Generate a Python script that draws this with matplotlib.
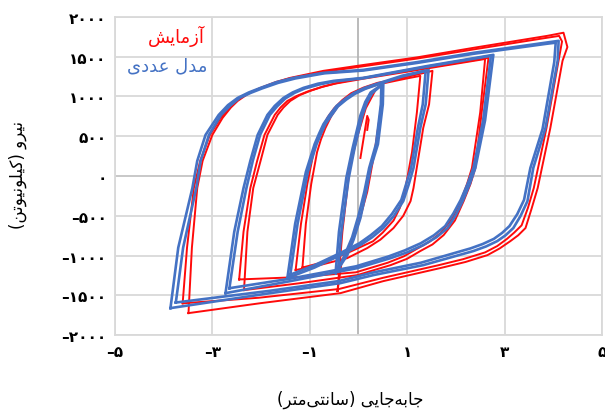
import numpy as np
import matplotlib
matplotlib.use("Agg")
import matplotlib.pyplot as plt

plt.rcParams['font.family'] = ['DejaVu Sans']

# --- data: (displacement cm, force kN) ---
# experiment (red)
exp_a1 = [(-3.49, -1723), (-3.42, -900), (-3.31, -150), (-3.20, 190), (-3.00, 516), (-2.79, 730),
          (-2.62, 860), (-2.48, 943), (-2.25, 1040), (-2.01, 1107), (-1.70, 1180), (-1.40, 1233),
          (-0.72, 1321), (-0.02, 1384), (1.20, 1490), (2.36, 1610), (3.88, 1761), (4.21, 1800),
          (4.29, 1620), (4.19, 1447), (3.94, 604), (3.68, -151), (3.55, -420), (3.43, -654),
          (3.28, -745), (3.12, -818), (2.90, -910), (2.65, -994), (2.20, -1080), (1.68, -1157),
          (0.51, -1321), (-0.37, -1472), (-2.01, -1598), (-3.49, -1723)]
exp_a2 = [(-3.61, -1600), (-3.52, -900), (-3.38, -150), (-3.25, 190), (-3.05, 516), (-2.83, 730),
          (-2.66, 850), (-2.52, 943), (-2.29, 1030), (-2.05, 1095), (-1.74, 1165), (-1.45, 1220),
          (-0.75, 1305), (0.00, 1370), (1.20, 1475), (2.36, 1590), (3.80, 1730), (4.12, 1760),
          (4.18, 1690), (4.10, 1420), (3.86, 600), (3.60, -151), (3.48, -400), (3.35, -620),
          (3.20, -710), (3.05, -790), (2.85, -880), (2.60, -960), (2.15, -1045), (1.65, -1120),
          (0.50, -1280), (-0.40, -1420), (-2.05, -1530), (-3.61, -1600)]
exp_b1 = [(-2.35, -1434), (-2.28, -700), (-2.16, -151), (-2.01, 190), (-1.87, 516), (-1.66, 767),
          (-1.54, 860), (-1.40, 943), (-1.21, 1015), (-0.99, 1070), (-0.72, 1125), (-0.43, 1170),
          (0.10, 1233), (1.30, 1350), (2.67, 1484), (2.53, 800), (2.40, 101), (2.30, -100),
          (2.16, -315), (1.98, -560), (1.75, -742), (1.52, -860), (1.27, -943), (1.00, -1040),
          (0.66, -1120), (-0.02, -1245), (-1.19, -1346), (-2.35, -1434)]
exp_b2 = [(-2.45, -1300), (-2.36, -700), (-2.22, -151), (-2.08, 190), (-1.93, 516), (-1.72, 767),
          (-1.60, 860), (-1.46, 943), (-1.27, 1005), (-1.05, 1060), (-0.77, 1115), (-0.48, 1160),
          (0.10, 1222), (1.30, 1340), (2.60, 1470), (2.50, 800), (2.33, 101), (2.23, -100),
          (2.10, -315), (1.92, -540), (1.68, -720), (1.45, -830), (1.20, -915), (0.93, -1010),
          (0.60, -1090), (-0.05, -1210), (-1.20, -1270), (-2.45, -1300)]
exp_c1 = [(-1.29, -1182), (-1.18, -600), (-1.05, -100), (-0.92, 300), (-0.84, 460), (-0.75, 600),
          (-0.63, 740), (-0.50, 850), (-0.33, 955), (-0.15, 1040), (0.10, 1110), (0.39, 1170),
          (0.92, 1233), (1.52, 1321), (1.45, 900), (1.33, 604), (1.13, -151), (1.07, -315),
          (0.92, -500), (0.72, -654), (0.45, -800), (0.18, -906), (-0.23, -1032), (-0.80, -1120),
          (-1.29, -1182)]
exp_c2 = [(-1.15, -1150), (-1.08, -600), (-0.97, -100), (-0.85, 300), (-0.77, 460), (-0.68, 600),
          (-0.56, 750), (-0.43, 870), (-0.27, 960), (-0.10, 1040), (0.15, 1100), (0.40, 1150),
          (0.95, 1220), (1.27, 1258), (1.20, 800), (1.10, 300), (0.95, -200), (0.85, -400),
          (0.72, -560), (0.50, -710), (0.30, -820), (-0.20, -960), (-0.70, -1080), (-1.15, -1150)]
exp_d = [(-0.43, -1446), (-0.33, -700), (-0.18, 100), (-0.02, 500), (0.15, 850), (0.35, 1080),
         (0.50, 1150), (0.45, 800), (0.33, 300), (0.18, -200), (0.00, -600), (-0.20, -900),
         (-0.35, -1100), (-0.43, -1446)]
exp_e = [(0.04, 226), (0.18, 755), (0.21, 705), (0.18, 579)]

# numerical model (blue)
num_a1 = [(-3.86, -1660), (-3.70, -900), (-3.41, -151), (-3.31, 190), (-3.14, 516), (-2.87, 767),
          (-2.68, 890), (-2.48, 981), (-2.25, 1050), (-2.01, 1107), (-1.68, 1180), (-1.33, 1233),
          (-0.72, 1296), (0.10, 1333), (1.20, 1430), (2.36, 1547), (3.90, 1680), (4.11, 1698),
          (4.09, 1450), (3.84, 604), (3.59, 101), (3.47, -315), (3.33, -500), (3.18, -654),
          (3.02, -745), (2.85, -818), (2.62, -885), (2.36, -943), (1.33, -1120), (0.31, -1245),
          (-0.37, -1346), (-1.81, -1472), (-3.86, -1660)]
num_a2 = [(-3.75, -1590), (-3.60, -900), (-3.33, -151), (-3.24, 190), (-3.07, 516), (-2.82, 767),
          (-2.63, 885), (-2.44, 981), (-2.21, 1045), (-1.98, 1100), (-1.65, 1170), (-1.30, 1225),
          (-0.70, 1290), (0.10, 1325), (1.20, 1420), (2.36, 1535), (3.85, 1660), (4.05, 1675),
          (4.02, 1430), (3.78, 590), (3.53, 101), (3.40, -300), (3.26, -480), (3.10, -630),
          (2.95, -715), (2.78, -790), (2.55, -855), (2.30, -910), (1.28, -1090), (0.28, -1215),
          (-0.40, -1320), (-1.85, -1445), (-3.75, -1590)]
num_b1 = [(-2.73, -1472), (-2.55, -700), (-2.36, -151), (-2.22, 190), (-2.07, 516), (-1.87, 767),
          (-1.72, 880), (-1.54, 981), (-1.35, 1050), (-1.13, 1107), (-0.83, 1160), (-0.51, 1195),
          (0.10, 1233), (1.40, 1380), (2.77, 1522), (2.60, 700), (2.40, 101), (2.28, -110),
          (2.14, -315), (2.00, -490), (1.83, -654), (1.60, -770), (1.33, -868), (1.00, -960),
          (0.66, -1032), (-0.02, -1157), (-1.40, -1321), (-2.73, -1472)]
num_b2 = [(-2.65, -1410), (-2.48, -700), (-2.30, -151), (-2.17, 190), (-2.02, 516), (-1.82, 767),
          (-1.67, 875), (-1.50, 975), (-1.31, 1045), (-1.10, 1100), (-0.80, 1150), (-0.50, 1188),
          (0.10, 1228), (1.40, 1372), (2.72, 1510), (2.56, 700), (2.36, 101), (2.24, -100),
          (2.10, -300), (1.95, -470), (1.78, -630), (1.55, -745), (1.28, -845), (0.95, -935),
          (0.62, -1010), (-0.05, -1135), (-1.40, -1290), (-2.65, -1410)]
num_c1 = [(-1.46, -1283), (-1.30, -600), (-1.08, 50), (-0.90, 400), (-0.81, 530), (-0.72, 650),
          (-0.59, 770), (-0.45, 880), (-0.28, 965), (-0.10, 1040), (0.12, 1105), (0.39, 1160),
          (0.90, 1260), (1.44, 1333), (1.38, 900), (1.27, 604), (1.13, 101), (1.03, -110),
          (0.92, -315), (0.73, -500), (0.51, -654), (0.28, -770), (0.04, -868), (-0.37, -994),
          (-0.90, -1150), (-1.46, -1283)]
num_c2 = [(-1.40, -1240), (-1.25, -600), (-1.04, 50), (-0.86, 400), (-0.77, 530), (-0.68, 650),
          (-0.55, 765), (-0.42, 875), (-0.25, 960), (-0.08, 1030), (0.14, 1095), (0.40, 1150),
          (0.90, 1250), (1.38, 1320), (1.32, 900), (1.22, 604), (1.08, 101), (0.98, -100),
          (0.88, -300), (0.69, -475), (0.48, -630), (0.25, -745), (0.02, -845), (-0.38, -970),
          (-0.90, -1120), (-1.40, -1240)]
num_d1 = [(-0.47, -1220), (-0.40, -700), (-0.25, -25), (-0.12, 350), (0.04, 760), (0.14, 930),
          (0.25, 1050), (0.51, 1160), (0.50, 900), (0.40, 400), (0.25, 101), (0.15, -220),
          (0.04, -528), (-0.10, -800), (-0.23, -994), (-0.47, -1220)]
num_d2 = [(-0.42, -1180), (-0.35, -700), (-0.20, -25), (-0.08, 350), (0.08, 760), (0.17, 920),
          (0.28, 1040), (0.47, 1140), (0.46, 900), (0.36, 400), (0.22, 101), (0.12, -200),
          (0.00, -500), (-0.13, -770), (-0.26, -960), (-0.42, -1180)]

exp_loops = [exp_a1, exp_a2, exp_b1, exp_b2, exp_c1, exp_c2, exp_d, exp_e]
num_loops = [num_a1, num_a2, num_b1, num_b2, num_c1, num_c2, num_d1, num_d2]

yticks = [-2000, -1500, -1000, -500, 0, 500, 1000, 1500, 2000]
xticks = [-5, -3, -1, 1, 3, 5]

exp_label = "آزمایش"
num_label = "مدل عددی"
x_label = "جابه\u200cجایی (سانتی\u200cمتر)"
y_label = "نیرو (کیلونیوتن)"


# matplotlib does no arabic shaping, so do it by hand with presentation forms
def dual(b):
    return (chr(b), chr(b + 1), chr(b + 2), chr(b + 3))

def right(b):
    return (chr(b), chr(b + 1), chr(b), chr(b + 1))

FORMS = {
    'ا': right(0xFE8D), 'آ': right(0xFE81), 'ب': dual(0xFE8F), 'ت': dual(0xFE95),
    'ج': dual(0xFE9D), 'د': right(0xFEA9), 'ر': right(0xFEAD), 'ز': right(0xFEAF),
    'س': dual(0xFEB1), 'ش': dual(0xFEB5), 'ع': dual(0xFEC9), 'ل': dual(0xFEDD),
    'م': dual(0xFEE1), 'ن': dual(0xFEE5), 'ه': dual(0xFEE9), 'و': right(0xFEED),
    'ی': dual(0xFBFC), 'ک': dual(0xFB8E),
}
RIGHT_ONLY = set('اآدرزو')
MIRROR = {'(': ')', ')': '('}

def farsi(text):
    out = []
    for i, c in enumerate(text):
        if c not in FORMS:
            if c != '\u200c':
                out.append(c)
            continue
        prev = text[i - 1] if i > 0 else ''
        nxt = text[i + 1] if i + 1 < len(text) else ''
        jp = prev in FORMS and prev not in RIGHT_ONLY
        jn = nxt in FORMS and c not in RIGHT_ONLY
        f = FORMS[c]
        out.append(f[3] if jp and jn else f[1] if jp else f[2] if jn else f[0])
    return ''.join(MIRROR.get(c, c) for c in reversed(out))

def fa_num(v):
    s = str(abs(int(v))).translate(str.maketrans('0123456789', '۰۱۲۳۴۵۶۷۸۹'))
    return ('\u2013' if v < 0 else '') + s


fig = plt.figure(figsize=(6.05, 4.14), dpi=100)
ax = fig.add_axes([0.190, 0.188, 0.805, 0.769])

red = '#ff0a0a'
blue = '#4472c4'
for loop in exp_loops:
    xs, ys = zip(*loop)
    ax.plot(xs, ys, color=red, lw=1.4, solid_joinstyle='round', zorder=3)
for loop in num_loops:
    xs, ys = zip(*loop)
    ax.plot(xs, ys, color=blue, lw=1.9, solid_joinstyle='round', zorder=4)

ax.set_xlim(-5, 5)
ax.set_ylim(-2000, 2000)
ax.set_xticks(xticks)
ax.set_yticks(yticks)
ax.set_xticklabels([fa_num(v) for v in xticks], fontsize=11, fontweight='bold')
ax.set_yticklabels([fa_num(v) for v in yticks], fontsize=11, fontweight='bold')
ax.tick_params(length=0, pad=6)
ax.grid(True, color='#d9d9d9', lw=1.3, zorder=0)
ax.set_axisbelow(True)
ax.axvline(0, color='#b5b5b5', lw=1.3, zorder=1)
ax.axhline(0, color='#c8c8c8', lw=1.3, zorder=1)
for s in ax.spines.values():
    s.set_color('#d9d9d9')
    s.set_linewidth(1.3)

ax.text(-3.15, 1770, farsi(exp_label), color=red, fontsize=13, ha='right', va='center')
ax.text(-3.1, 1390, farsi(num_label), color=blue, fontsize=13, ha='right', va='center')

fig.text(0.579, 0.034, farsi(x_label), fontsize=12, ha='center', va='center')
fig.text(0.030, 0.577, farsi(y_label), fontsize=12, ha='center', va='center', rotation=90)

fig.savefig('out.png', dpi=100)
